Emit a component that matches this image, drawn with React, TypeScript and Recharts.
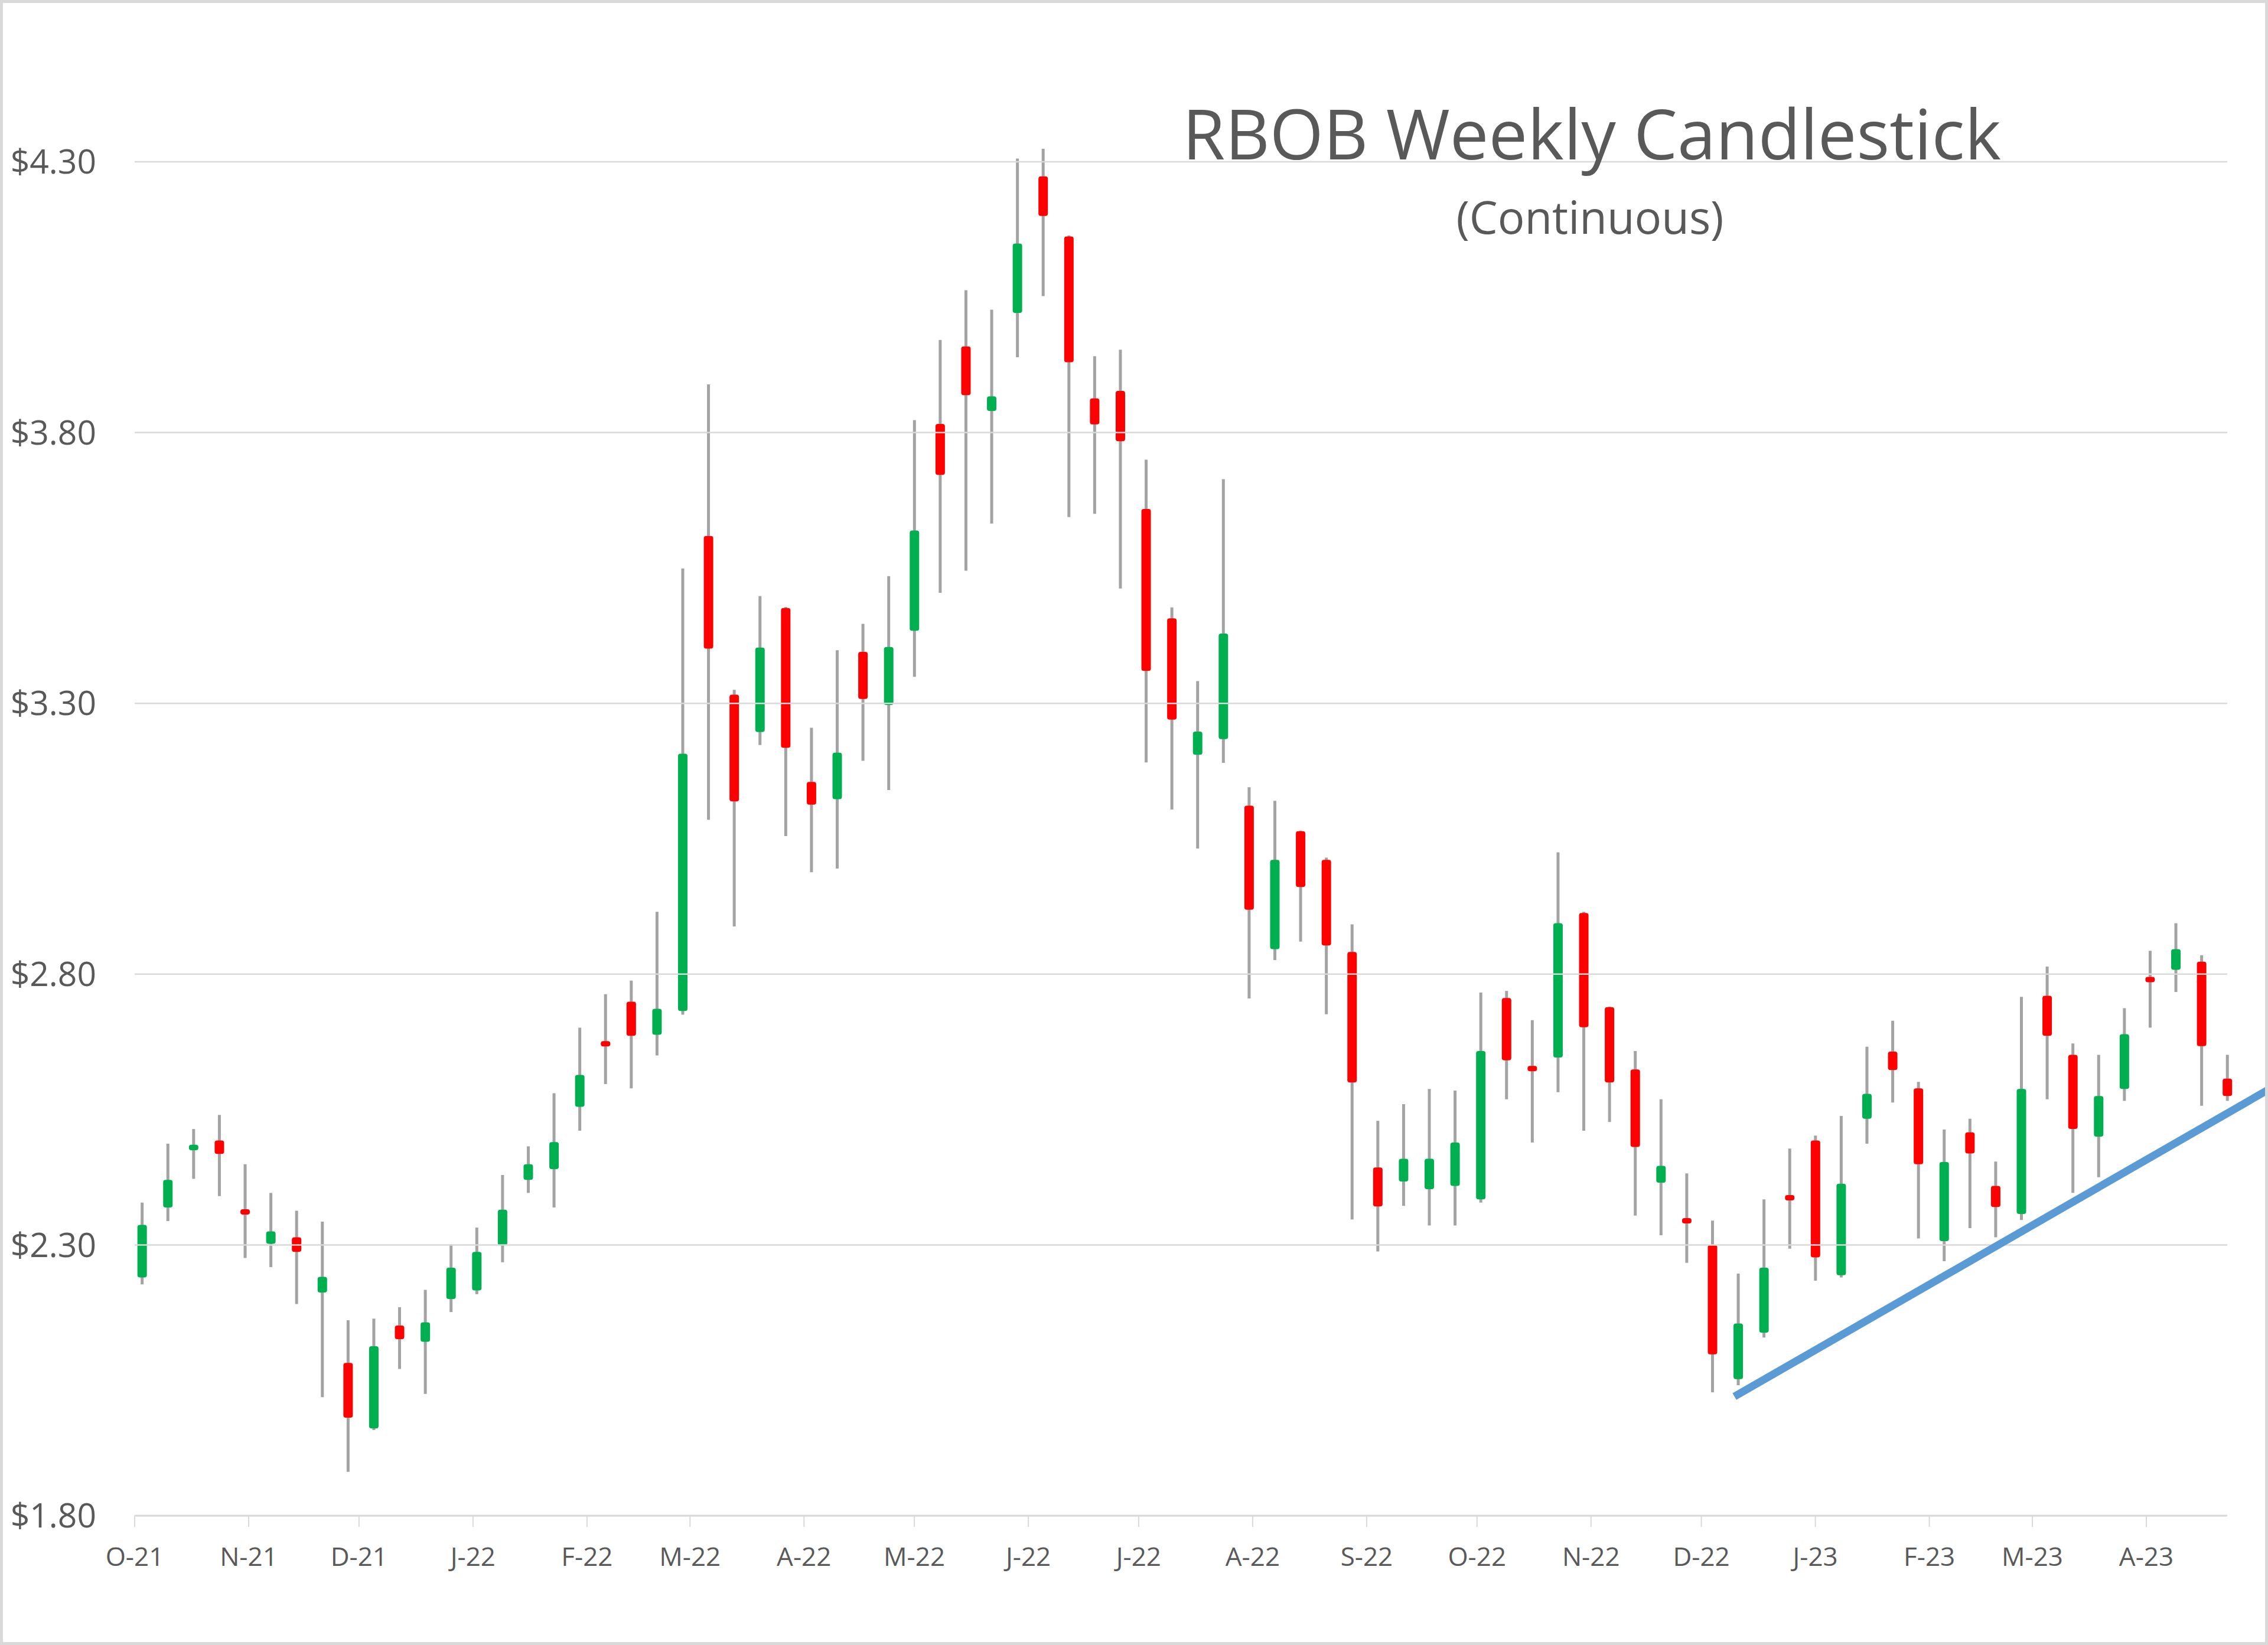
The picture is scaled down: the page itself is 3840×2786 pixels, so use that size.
import React from "react";
import { ComposedChart, Bar, XAxis, YAxis, ReferenceLine } from "recharts";

// weekly RBOB candles, one per week starting this Sunday
const firstWeek = "2021-10-03";

const opens = [
  2.240, 2.369, 2.475, 2.493, 2.365, 2.302, 2.314, 2.212, 2.082, 1.961,
  2.151, 2.121, 2.200, 2.216, 2.299, 2.420, 2.440, 2.555, 2.675, 2.749,
  2.688, 2.732, 3.609, 3.316, 3.247, 3.476, 3.155, 3.123, 3.395, 3.297,
  3.434, 3.816, 3.959, 3.840, 4.021, 4.273, 4.162, 3.863, 3.877, 3.659,
  3.457, 3.205, 3.234, 3.111, 2.846, 3.064, 3.011, 2.841, 2.443, 2.417,
  2.403, 2.409, 2.384, 2.756, 2.630, 2.646, 2.913, 2.739, 2.624, 2.415,
  2.348, 2.300, 2.052, 2.138, 2.390, 2.493, 2.244, 2.533, 2.657, 2.589,
  2.307, 2.508, 2.409, 2.357, 2.760, 2.651, 2.500, 2.588, 2.794, 2.808,
  2.823, 2.607,
];
const highs = [
  2.378, 2.487, 2.514, 2.540, 2.449, 2.396, 2.363, 2.343, 2.161, 2.164,
  2.185, 2.217, 2.301, 2.332, 2.429, 2.482, 2.580, 2.701, 2.763, 2.788,
  2.915, 3.549, 3.889, 3.325, 3.498, 3.478, 3.255, 3.398, 3.447, 3.535,
  3.823, 3.971, 4.063, 4.027, 4.306, 4.324, 4.164, 3.941, 3.953, 3.750,
  3.477, 3.341, 3.714, 3.145, 3.120, 3.065, 3.015, 2.892, 2.529, 2.560,
  2.588, 2.585, 2.766, 2.769, 2.715, 3.025, 2.915, 2.740, 2.658, 2.569,
  2.432, 2.345, 2.247, 2.384, 2.478, 2.502, 2.538, 2.666, 2.714, 2.601,
  2.513, 2.533, 2.454, 2.758, 2.814, 2.672, 2.651, 2.737, 2.843, 2.894,
  2.835, 2.651,
];
const lows = [
  2.227, 2.344, 2.422, 2.390, 2.276, 2.259, 2.191, 2.019, 1.881, 1.958,
  2.071, 2.025, 2.176, 2.209, 2.268, 2.396, 2.369, 2.511, 2.597, 2.589,
  2.650, 2.725, 3.085, 2.888, 3.223, 3.055, 2.988, 2.995, 3.194, 3.140,
  3.349, 3.504, 3.545, 3.632, 3.939, 4.052, 3.644, 3.650, 3.512, 3.191,
  3.104, 3.032, 3.190, 2.755, 2.826, 2.860, 2.726, 2.347, 2.288, 2.372,
  2.336, 2.336, 2.378, 2.569, 2.489, 2.582, 2.511, 2.527, 2.354, 2.318,
  2.267, 2.028, 2.041, 2.129, 2.293, 2.234, 2.240, 2.487, 2.563, 2.312,
  2.270, 2.331, 2.314, 2.346, 2.569, 2.396, 2.425, 2.566, 2.701, 2.767,
  2.557, 2.566,
];
const closes = [
  2.337, 2.420, 2.485, 2.468, 2.357, 2.325, 2.287, 2.241, 1.981, 2.113,
  2.126, 2.157, 2.258, 2.287, 2.365, 2.449, 2.490, 2.614, 2.668, 2.686,
  2.736, 3.207, 3.401, 3.119, 3.403, 3.218, 3.113, 3.209, 3.308, 3.404,
  3.619, 3.722, 3.869, 3.867, 4.149, 4.200, 3.930, 3.815, 3.784, 3.360,
  3.270, 3.248, 3.429, 2.919, 3.011, 2.961, 2.853, 2.600, 2.371, 2.459,
  2.459, 2.489, 2.658, 2.641, 2.621, 2.894, 2.702, 2.600, 2.481, 2.446,
  2.341, 2.098, 2.155, 2.258, 2.384, 2.277, 2.413, 2.579, 2.623, 2.449,
  2.453, 2.469, 2.370, 2.588, 2.686, 2.514, 2.575, 2.689, 2.786, 2.846,
  2.667, 2.575,
];

const monthTicks = [
  "2021-10-01", "2021-11-01", "2021-12-01", "2022-01-01", "2022-02-01",
  "2022-03-01", "2022-04-01", "2022-05-01", "2022-06-01", "2022-07-01",
  "2022-08-01", "2022-09-01", "2022-10-01", "2022-11-01", "2022-12-01",
  "2023-01-01", "2023-02-01", "2023-03-01", "2023-04-01",
];
const monthLabels = [
  "O-21", "N-21", "D-21", "J-22", "F-22", "M-22", "A-22", "M-22", "J-22", "J-22",
  "A-22", "S-22", "O-22", "N-22", "D-22", "J-23", "F-23", "M-23", "A-23",
];
const priceTicks = [1.8, 2.3, 2.8, 3.3, 3.8, 4.3];

const xRange = ["2021-10-01", "2023-04-23"];
const yRange = [1.8, 4.33];

// hand-drawn support line
const trendFrom = { date: "2022-12-10", price: 2.02 };
const trendTo = { date: "2023-05-04", price: 2.586 };

const DAY = 86400000;
const toMs = (s: string) => Date.parse(s + "T00:00:00Z");

const data = opens.map((o, i) => ({
  date: toMs(firstWeek) + i * 7 * DAY,
  open: o,
  high: highs[i],
  low: lows[i],
  close: closes[i],
}));
const tickMs = monthTicks.map(toMs);

const GREEN = "#00b050";
const RED = "#ff0000";
const WICK = "#a3a3a3";
const TEXT = "#595959";
const GRID = "#d9d9d9";
const FONT = "'Open Sans', 'Noto Sans', sans-serif";

function Candle(props: any) {
  const { x, y, width, height, payload } = props;
  if (x == null || y == null || !payload) return null;
  const top = Math.min(y, y + height);
  const bottom = Math.max(y, y + height);
  const { open, high, low, close } = payload;
  const k = (bottom - top) / (high - low);
  const py = (p: number) => top + (high - p) * k;
  const cx = x + width / 2;
  let bTop = py(Math.max(open, close));
  let bBot = py(Math.min(open, close));
  if (bBot - bTop < 9) {
    const m = (bTop + bBot) / 2;
    bTop = m - 4.5;
    bBot = m + 4.5;
  }
  return (
    <g>
      <line x1={cx} x2={cx} y1={top} y2={bottom} stroke={WICK} strokeWidth={5} />
      <rect
        x={cx - 8}
        y={bTop}
        width={16}
        height={bBot - bTop}
        rx={4}
        fill={close >= open ? GREEN : RED}
      />
    </g>
  );
}

export default function App() {
  return (
    <div style={{ position: "absolute", left: 0, top: 0, width: 3840, height: 2786, background: "#fff" }}>
      <ComposedChart
        width={3840}
        height={2786}
        data={data}
        margin={{ top: 246.5, right: 69, left: 0, bottom: 119 }}
      >
        {priceTicks.map((t) => (
          <ReferenceLine key={t} y={t} stroke={GRID} strokeWidth={2.5} />
        ))}
        <XAxis
          type="number"
          dataKey="date"
          domain={[toMs(xRange[0]), toMs(xRange[1])]}
          ticks={tickMs}
          interval={0}
          height={100}
          tickFormatter={(v: number) => monthLabels[tickMs.indexOf(v)] ?? ""}
          tick={{ fill: TEXT, fontSize: 44, fontFamily: FONT }}
          tickSize={19}
          tickMargin={35}
          tickLine={{ stroke: GRID, strokeWidth: 2 }}
          axisLine={{ stroke: GRID, strokeWidth: 3 }}
        />
        <YAxis
          type="number"
          domain={yRange}
          ticks={priceTicks}
          interval={0}
          width={228}
          tickFormatter={(v: number) => `$${v.toFixed(2)}`}
          tick={{ fill: TEXT, fontSize: 57, fontFamily: FONT }}
          tickSize={0}
          tickMargin={65}
          axisLine={false}
          tickLine={false}
        />
        <Bar
          dataKey={(d: any) => [d.low, d.high]}
          barSize={16}
          shape={(p: any) => <Candle {...p} />}
          isAnimationActive={false}
        />
        <ReferenceLine
          segment={[
            { x: toMs(trendFrom.date), y: trendFrom.price },
            { x: toMs(trendTo.date), y: trendTo.price },
          ]}
          stroke="#5b9bd5"
          strokeWidth={13}
          ifOverflow="visible"
        />
      </ComposedChart>
      <svg
        width={3840}
        height={2786}
        style={{ position: "absolute", left: 0, top: 0, pointerEvents: "none" }}
      >
        <text x={2695} y={270} textAnchor="middle" fill={TEXT} fontSize={117} fontFamily={FONT}>
          RBOB Weekly Candlestick
        </text>
        <text x={2692} y={396} textAnchor="middle" fill={TEXT} fontSize={76} fontFamily={FONT}>
          (Continuous)
        </text>
      </svg>
      <div
        style={{
          position: "absolute",
          left: 0,
          top: 0,
          width: 3840,
          height: 2786,
          boxSizing: "border-box",
          border: `5px solid ${GRID}`,
          pointerEvents: "none",
        }}
      />
    </div>
  );
}
